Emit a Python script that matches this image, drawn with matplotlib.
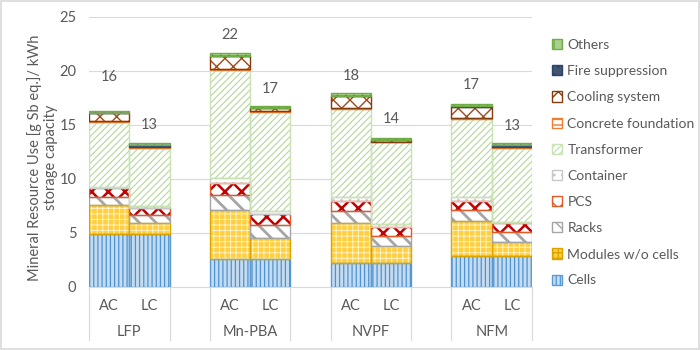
import numpy as np
import matplotlib
matplotlib.use('Agg')
import matplotlib.pyplot as plt
from matplotlib.patches import Patch, Rectangle
from matplotlib.transforms import blended_transform_factory

plt.rcParams['font.family'] = ['Lato', 'DejaVu Sans']

# data: one entry per bar (LFP AC, LFP LC, Mn-PBA AC, Mn-PBA LC, NVPF AC, NVPF LC, NFM AC, NFM LC)
groups = ['LFP', 'Mn-PBA', 'NVPF', 'NFM']
variants = ['AC', 'LC']
cells = [4.95, 4.95, 2.6, 2.6, 2.2, 2.2, 2.85, 2.85]
modules = [2.65, 1.0, 4.55, 1.9, 3.7, 1.6, 3.25, 1.35]
racks = [0.7, 0.7, 1.4, 1.2, 1.1, 0.9, 1.0, 0.85]
pcs = [0.85, 0.7, 1.1, 1.1, 1.0, 0.9, 0.9, 0.85]
container = [0.15, 0.15, 0.45, 0.2, 0.3, 0.2, 0.3, 0.15]
transformer = [6.0, 5.4, 10.0, 9.2, 8.2, 7.6, 7.3, 6.85]
concrete = [0.05, 0.05, 0.05, 0.05, 0.05, 0.05, 0.05, 0.05]
cooling = [0.75, 0.15, 1.25, 0.3, 1.15, 0.15, 1.05, 0.15]
fire = [0.02, 0.02, 0.02, 0.02, 0.02, 0.02, 0.02, 0.02]
others = [0.18, 0.18, 0.22, 0.18, 0.2, 0.2, 0.2, 0.2]

# name, values, face, hatch colour, hatch, border, hatch width
series = [
    ('Cells', cells, '#C5DCF0', '#4F92D0', '||||', '#5B9BD5', 0.9),
    ('Modules w/o cells', modules, '#FFCF40', '#FFF3C4', '+++', '#D9A400', 0.7),
    ('Racks', racks, 'white', '#A5A5A5', '\\\\', '#A5A5A5', 2.0),
    ('PCS', pcs, 'white', '#C00000', 'xx', '#E2592A', 1.8),
    ('Container', container, 'white', '#D0D0D0', '..', '#C8C8C8', 0.8),
    ('Transformer', transformer, 'white', '#B5D89B', '/////', '#C9E3B5', 0.8),
    ('Concrete foundation', concrete, 'white', '#ED7D31', '---', '#ED7D31', 1.0),
    ('Cooling system', cooling, 'white', '#9E4A1A', 'xx', '#843C0C', 1.0),
    ('Fire suppression', fire, '#44546A', '#264478', '..', '#264478', 1.0),
    ('Others', others, '#A9D08E', '#70AD47', '||', '#70AD47', 1.0),
]

label_pad = [3.1, 1.7, 1.65, 1.6, 1.6, 1.7, 1.8, 1.6]
text_col = '#595959'
grid_col = '#D9D9D9'

# two bars per group, one empty slot between groups
x = []
for g in range(len(groups)):
    x += [3 * g, 3 * g + 1]
x = np.array(x)

fig = plt.figure(figsize=(7, 3.5), dpi=100)
ax = fig.add_axes([89 / 700, 63 / 350, 443 / 700, 270 / 350])

bottom = np.zeros(len(x))
for name, vals, face, hcol, hatch, border, hlw in series:
    vals = np.array(vals)
    with plt.rc_context({'hatch.linewidth': hlw}):
        ax.bar(x, vals, width=1.0, bottom=bottom, color=face, edgecolor=hcol,
               hatch=hatch, linewidth=0, zorder=2)
    ax.bar(x, vals, width=1.0, bottom=bottom, fill=False, edgecolor=border,
           linewidth=1.0, zorder=3)
    bottom += vals

for xi, tot, pad in zip(x, bottom, label_pad):
    ax.text(xi, tot + pad, f'{tot:.0f}', ha='center', va='center', fontsize=10.5,
            color=text_col)

ax.set_xlim(-0.5, 10.5)
ax.set_ylim(0, 25)
ax.set_yticks(np.arange(0, 26, 5))
ax.yaxis.grid(True, color=grid_col, linewidth=0.8, zorder=0)
ax.set_axisbelow(True)
for s in ['left', 'right', 'top']:
    ax.spines[s].set_visible(False)
ax.spines['bottom'].set_color(grid_col)
ax.tick_params(axis='y', length=0, pad=9, labelsize=10.5, labelcolor=text_col)

ax.set_xticks(x)
ax.set_xticklabels(variants * len(groups))
ax.tick_params(axis='x', length=0, pad=9, labelsize=10.5, labelcolor=text_col)

# multi-level category axis: group names and separators
trans = blended_transform_factory(ax.transData, ax.transAxes)
for g, name in enumerate(groups):
    ax.text(3 * g + 0.5, -0.167, name, transform=trans, ha='center', va='center',
            fontsize=10.5, color=text_col)
    for xe in (3 * g - 0.5, 3 * g + 1.5):
        ax.plot([xe, xe], [0, -0.196], transform=trans, color=grid_col,
                linewidth=0.8, clip_on=False)

ax.set_ylabel('Mineral Resource Use [g Sb eq.]/ kWh\nstorage capacity',
              fontsize=10.5, color=text_col, linespacing=1.2)
ax.yaxis.set_label_coords(-0.069, 0.48)

handles = [Patch(facecolor=face, edgecolor=border, hatch=hatch, label=name)
           for name, vals, face, hcol, hatch, border, hlw in series]
leg = fig.legend(handles[::-1], [s[0] for s in series][::-1], loc='upper left',
                 bbox_to_anchor=(552 / 700, 1 - 39 / 350), frameon=False,
                 fontsize=10, labelcolor=text_col, handlelength=0.75,
                 handleheight=0.75, handletextpad=0.35, labelspacing=1.02,
                 borderpad=0, borderaxespad=0)

fig.patches.append(Rectangle((0.001, 0.003), 0.997, 0.994, transform=fig.transFigure,
                             fill=False, edgecolor=grid_col, linewidth=1.2))

fig.savefig('out.png', dpi=100)
